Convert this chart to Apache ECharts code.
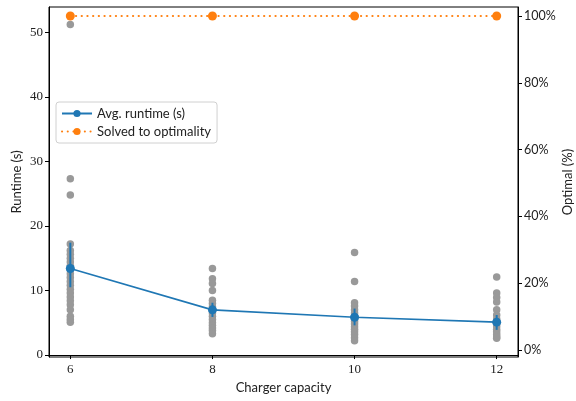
<!DOCTYPE html>
<html>
<head>
<meta charset="utf-8">
<script src="https://cdn.jsdelivr.net/npm/echarts@6/dist/echarts.min.js"></script>
<style>
  html, body { margin: 0; padding: 0; background: #fff; }
  #chart { width: 576px; height: 401px; }
</style>
</head>
<body>
<div id="chart"></div>
<script>
// Charger capacities tested
const capacities = [6, 8, 10, 12];

// Individual instance runtimes (s) per charger capacity
const runtimes6 = [51.2, 27.3, 24.8, 17.2, 16.2, 15.6, 15.0, 14.4, 13.8, 13.2, 12.6, 12.0, 11.4, 10.8, 10.2, 9.6, 9.0, 8.4, 7.8, 7.0, 6.0, 5.5, 5.1];
const runtimes8 = [13.4, 11.8, 11.1, 10.0, 8.5, 8.0, 7.5, 7.0, 6.5, 6.0, 5.5, 5.0, 4.6, 4.2, 3.8, 3.3];
const runtimes10 = [15.9, 11.4, 8.1, 7.6, 7.0, 6.5, 6.0, 5.6, 5.2, 4.8, 4.4, 4.0, 3.6, 3.2, 2.7, 2.2];
const runtimes12 = [12.1, 9.6, 8.9, 8.2, 7.0, 6.2, 5.6, 5.0, 4.5, 4.0, 3.6, 3.2, 2.8, 2.6];

// Average runtime and its error interval
const avgRuntime = [13.4, 7.0, 5.85, 5.1];
const errLow = [10.5, 5.9, 4.6, 3.9];
const errHigh = [17.4, 8.1, 7.2, 6.2];

// Share of instances solved to optimality (%)
const optimalPct = [100, 100, 100, 100];

// Tick labels
const xTicks = [6, 8, 10, 12];
const runtimeTicks = [0, 10, 20, 30, 40, 50];
const pctTicks = [0, 20, 40, 60, 80, 100];

const allRuntimes = [runtimes6, runtimes8, runtimes10, runtimes12];
const scatterData = [];
allRuntimes.forEach((arr, i) => arr.forEach(v => scatterData.push([capacities[i], v])));

const serifFont = '"Liberation Serif", "DejaVu Serif", serif';
const sansFont = 'Lato, "Open Sans", sans-serif';

const chart = echarts.init(document.getElementById('chart'), null, { renderer: 'canvas' });

chart.setOption({
  animation: false,
  backgroundColor: '#fff',
  grid: {
    left: 49, right: 58, top: 7, bottom: 44,
    outerBoundsMode: 'none',
    containLabel: false,
    show: true, borderColor: '#000', borderWidth: 1
  },
  legend: {
    left: 56, top: 102,
    orient: 'vertical',
    itemWidth: 30, itemHeight: 9,
    itemGap: 5,
    padding: [5, 6, 5, 5],
    backgroundColor: '#fff',
    borderColor: '#d0d0d0', borderWidth: 1, borderRadius: 3,
    textStyle: { fontFamily: sansFont, fontSize: 13, color: '#222' },
    data: ['Avg. runtime (s)', 'Solved to optimality']
  },
  xAxis: {
    type: 'value', min: 5.7, max: 12.3,
    name: 'Charger capacity', nameLocation: 'middle', nameGap: 24,
    nameMoveOverlap: false,
    nameTextStyle: { fontFamily: sansFont, fontSize: 13, color: '#222' },
    axisLine: { show: true, lineStyle: { color: '#000', width: 1 } },
    axisTick: { show: true, inside: false, length: 4, lineStyle: { color: '#000' }, customValues: xTicks },
    axisLabel: { customValues: xTicks, fontFamily: serifFont, fontSize: 13, color: '#222', margin: 6 },
    splitLine: { show: false }
  },
  yAxis: [
    {
      type: 'value', min: -0.3, max: 53.9, position: 'left',
      name: 'Runtime (s)', nameLocation: 'middle', nameGap: 26, nameRotate: 90,
      nameMoveOverlap: false,
      nameTextStyle: { fontFamily: sansFont, fontSize: 13, color: '#222' },
      axisLine: { show: true, lineStyle: { color: '#000', width: 1 } },
      axisTick: { show: true, inside: false, length: 4, lineStyle: { color: '#000' }, customValues: runtimeTicks },
      axisLabel: { customValues: runtimeTicks, fontFamily: serifFont, fontSize: 13, color: '#222', margin: 6 },
      splitLine: { show: false }
    },
    {
      type: 'value', min: -2.1, max: 102.7, position: 'right',
      name: 'Optimal (%)', nameLocation: 'middle', nameGap: 43, nameRotate: 90,
      nameMoveOverlap: false,
      nameTextStyle: { fontFamily: sansFont, fontSize: 13, color: '#222' },
      axisLine: { show: true, lineStyle: { color: '#000', width: 1 } },
      axisTick: { show: true, inside: false, length: 4, lineStyle: { color: '#000' }, customValues: pctTicks },
      axisLabel: { customValues: pctTicks, formatter: '{value}%', fontFamily: sansFont, fontSize: 12.5, color: '#222', margin: 6 },
      splitLine: { show: false }
    }
  ],
  series: [
    {
      name: 'Instances',
      type: 'scatter',
      yAxisIndex: 0,
      data: scatterData,
      symbolSize: 7.5,
      itemStyle: { color: '#999999', opacity: 1 },
      z: 2
    },
    {
      name: 'Error',
      type: 'custom',
      yAxisIndex: 0,
      data: capacities.map((c, i) => [c, errLow[i], errHigh[i]]),
      renderItem: function (params, api) {
        const p0 = api.coord([api.value(0), api.value(1)]);
        const p1 = api.coord([api.value(0), api.value(2)]);
        return {
          type: 'line',
          shape: { x1: p0[0], y1: p0[1], x2: p1[0], y2: p1[1] },
          style: { stroke: '#1f77b4', lineWidth: 2 }
        };
      },
      z: 3
    },
    {
      name: 'Avg. runtime (s)',
      type: 'line',
      yAxisIndex: 0,
      data: capacities.map((c, i) => [c, avgRuntime[i]]),
      symbol: 'circle', symbolSize: 9,
      showAllSymbol: true,
      lineStyle: { color: '#1f77b4', width: 1.6 },
      itemStyle: { color: '#1f77b4' },
      z: 4
    },
    {
      name: 'Solved to optimality',
      type: 'line',
      yAxisIndex: 1,
      data: capacities.map((c, i) => [c, optimalPct[i]]),
      symbol: 'circle', symbolSize: 9,
      showAllSymbol: true,
      lineStyle: { color: '#ff7f0e', width: 2.2, type: [0.1, 5.6], cap: 'round' },
      itemStyle: { color: '#ff7f0e' },
      z: 5
    }
  ]
});
</script>
</body>
</html>
